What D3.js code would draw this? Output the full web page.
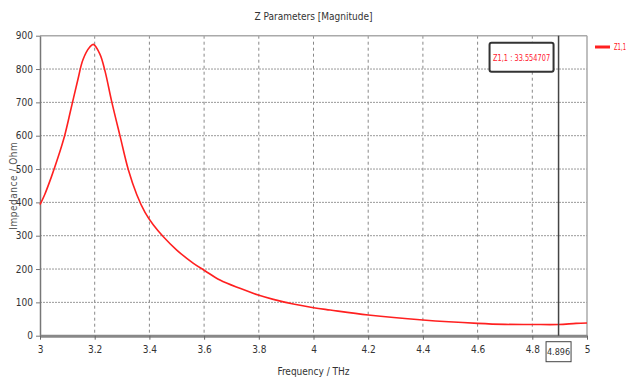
<!DOCTYPE html>
<meta charset="utf-8" />
<style>
    body { margin: 0; background: #fff; }
    text { font-family: "DejaVu Sans Condensed", "DejaVu Sans", sans-serif; font-stretch: condensed; }
</style>
<title>Z Parameters</title>
<body></body>
<script src="https://d3js.org/d3.v7.min.js"></script>
<script>

    // frequency (THz) and impedance magnitude (Ohm)
    var freq = [3.0, 3.017, 3.041, 3.066, 3.090, 3.114, 3.139, 3.157, 3.182, 3.195, 3.219, 3.238,
        3.262, 3.293, 3.323, 3.354, 3.384, 3.414, 3.451, 3.5, 3.561, 3.603, 3.658, 3.731, 3.798,
        3.853, 3.926, 4.0, 4.061, 4.2, 4.4, 4.6, 4.7, 4.8, 4.896, 4.96, 5.0];
    var z11 = [393, 423, 475, 535, 600, 683, 770, 828, 866, 874, 845, 793,
        703, 598, 498, 423, 370, 333, 297, 257, 217, 195, 167, 142, 122,
        109, 95, 84, 77, 62, 47, 37, 34, 33.6, 33.55, 37, 38];

    var xTicks = [3, 3.2, 3.4, 3.6, 3.8, 4, 4.2, 4.4, 4.6, 4.8, 5];
    var yTicks = [0, 100, 200, 300, 400, 500, 600, 700, 800, 900];
    var markerFreq = 4.896, markerLabel = "Z1,1 : 33.554707";

    var svgWidth = 631, svgHeight = 380;
    var margin = {top: 35.7, right: 44, bottom: 44.3, left: 40};
    var width = svgWidth - margin.left - margin.right;
    var height = svgHeight - margin.top - margin.bottom;

    var svg = d3.select("body").append("svg")
        .attr("width", svgWidth)
        .attr("height", svgHeight);

    var g = svg.append("g")
        .attr("transform", "translate(" + margin.left + "," + margin.top + ")");

    var x = d3.scaleLinear().domain([3, 5]).range([0, width]);
    var y = d3.scaleLinear().domain([0, 900]).range([height, 0]);

    // grid
    g.selectAll(".vgrid").data(xTicks.slice(1, -1)).enter().append("line")
        .attr("x1", x).attr("x2", x).attr("y1", 0).attr("y2", height)
        .attr("stroke", "#888").attr("stroke-width", 1).attr("stroke-dasharray", "3,3");
    g.selectAll(".hgrid").data(yTicks.slice(1, -1)).enter().append("line")
        .attr("x1", 0).attr("x2", width).attr("y1", y).attr("y2", y)
        .attr("stroke", "#999").attr("stroke-width", 1).attr("stroke-dasharray", "2,1");

    // frame
    g.append("line").attr("x1", 0).attr("x2", width).attr("y1", 0).attr("y2", 0)
        .attr("stroke", "#aaa").attr("stroke-width", 1.5);
    g.append("line").attr("x1", width).attr("x2", width).attr("y1", 0).attr("y2", height)
        .attr("stroke", "#aaa").attr("stroke-width", 1.5);

    // axes
    var yAxis = g.append("g")
        .call(d3.axisLeft(y).tickValues(yTicks).tickSize(4).tickSizeOuter(0));
    yAxis.select(".domain").attr("stroke", "#777").attr("stroke-width", 1.5);
    yAxis.selectAll("line").attr("stroke", "#777");
    yAxis.selectAll("text").attr("font-size", 10).attr("fill", "#333");

    var xAxis = g.append("g")
        .attr("transform", "translate(0," + height + ")")
        .call(d3.axisBottom(x).tickValues(xTicks).tickFormat(d3.format("")).tickSize(4).tickSizeOuter(0));
    xAxis.select(".domain").attr("stroke", "#888").attr("stroke-width", 3);
    xAxis.selectAll("line").attr("stroke", "#666");
    xAxis.selectAll("text").attr("font-size", 10).attr("fill", "#333").attr("dy", "1em");

    // curve
    var line = d3.line()
        .x(function (d, i) { return x(freq[i]); })
        .y(function (d) { return y(d); })
        .curve(d3.curveCatmullRom.alpha(0.5));
    g.append("path").datum(z11)
        .attr("d", line)
        .attr("fill", "none")
        .attr("stroke", "#ff2020")
        .attr("stroke-width", 1.6);

    // marker
    var mx = x(markerFreq);
    g.append("line").attr("x1", mx).attr("x2", mx).attr("y1", 0).attr("y2", height)
        .attr("stroke", "#444").attr("stroke-width", 1.5);

    var mb = g.append("g").attr("transform", "translate(" + (mx - 37) + ",22)");
    mb.append("rect").attr("x", -32).attr("y", -15).attr("width", 64).attr("height", 29).attr("rx", 2)
        .attr("fill", "#fff").attr("stroke", "#333").attr("stroke-width", 2);
    mb.append("text").attr("text-anchor", "middle").attr("dy", "0.35em")
        .attr("font-size", 9).attr("fill", "#ff2030")
        .attr("textLength", 57).attr("lengthAdjust", "spacingAndGlyphs")
        .text(markerLabel);

    var xb = g.append("g").attr("transform", "translate(" + mx + "," + (height + 16) + ")");
    xb.append("rect").attr("x", -12.5).attr("y", -10).attr("width", 25).attr("height", 20)
        .attr("fill", "#fff").attr("stroke", "#444").attr("stroke-width", 1);
    xb.append("text").attr("text-anchor", "middle").attr("dy", "0.35em")
        .attr("font-size", 9).attr("fill", "#333").text(markerFreq);

    // titles
    svg.append("text").attr("x", margin.left + width / 2).attr("y", 20)
        .attr("text-anchor", "middle").attr("font-size", 10).attr("fill", "#333")
        .text("Z Parameters [Magnitude]");
    svg.append("text").attr("x", margin.left + width / 2).attr("y", 375)
        .attr("text-anchor", "middle").attr("font-size", 10).attr("fill", "#333")
        .text("Frequency / THz");
    svg.append("text")
        .attr("transform", "translate(13," + (margin.top + height / 2) + ") rotate(-90)")
        .attr("text-anchor", "middle").attr("dy", "0.35em").attr("font-size", 10).attr("fill", "#555")
        .attr("letter-spacing", 0.5)
        .text("Impedance / Ohm");

    // legend
    var legend = svg.append("g").attr("transform", "translate(595,47)");
    legend.append("line").attr("x1", 0).attr("x2", 15).attr("y1", 0).attr("y2", 0)
        .attr("stroke", "#ff2020").attr("stroke-width", 3);
    legend.append("text").attr("x", 19).attr("dy", "0.35em")
        .attr("font-size", 9).attr("fill", "#ff2020")
        .attr("textLength", 12).attr("lengthAdjust", "spacingAndGlyphs")
        .text("Z1,1");

</script>
